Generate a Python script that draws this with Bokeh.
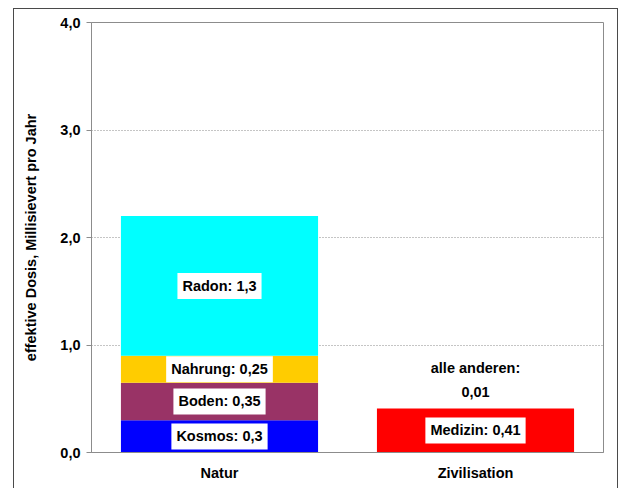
from bokeh.plotting import figure
from bokeh.models import ColumnDataSource, FactorRange, FixedTicker, CustomJSTickFormatter
from bokeh.core.properties import value
from bokeh.embed import file_html
from bokeh.resources import INLINE

# Annual effective dose (mSv) by source
categories = ["Natur", "Zivilisation"]
natur_sources = ["Kosmos", "Boden", "Nahrung", "Radon"]
natur_values = [0.3, 0.35, 0.25, 1.3]
natur_colors = ["#0000FF", "#993366", "#FFCC00", "#00FFFF"]
civil_sources = ["Medizin"]
civil_values = [0.41]
civil_colors = ["#FF0000"]
other_label = "alle anderen"
other_value = 0.01
y_ticks = [0, 1, 2, 3, 4]

FONT = "Liberation Sans"
FS = "14.5px"


def fmt(v):
    s = ("%.2f" % v).rstrip("0")
    if s.endswith("."):
        s += "0"
    return s.replace(".", ",")


def stack(cat, names, vals, colors):
    bottoms, tops = [], []
    acc = 0.0
    for v in vals:
        bottoms.append(acc)
        acc += v
        tops.append(acc)
    return dict(x=[cat] * len(vals), bottom=bottoms, top=tops, color=colors,
                mid=[(b + t) / 2 for b, t in zip(bottoms, tops)],
                label=[f"{n}: {fmt(v)}" for n, v in zip(names, vals)])


nat = stack(categories[0], natur_sources, natur_values, natur_colors)
civ = stack(categories[1], civil_sources, civil_values, civil_colors)
data = {k: nat[k] + civ[k] for k in nat}
src = ColumnDataSource(data)

# the chart sits inside a thin outer frame drawn as a CSS outline
p = figure(width=603, height=479, x_range=FactorRange(*categories, range_padding=0),
           y_range=(0, 4), output_backend="svg", toolbar_location=None,
           min_border_left=77, min_border_right=14, min_border_top=13, min_border_bottom=36,
           styles={"margin-left": "14px", "margin-top": "9px",
                   "outline": "1px solid #4a4a4a"})
p.background_fill_color = "white"
p.border_fill_color = "white"
p.outline_line_color = "#8c8c8c"
p.outline_line_width = 1

p.vbar(x="x", bottom="bottom", top="top", width=0.77, color="color", line_color=None, source=src)

p.text(x="x", y="mid", text="label", source=src, text_align="center", text_baseline="middle",
       text_font=value(FONT), text_font_style="bold", text_font_size=FS, text_color="black",
       background_fill_color="white", padding=5)

civ_total = sum(civil_values) + other_value
osrc = ColumnDataSource(dict(x=[categories[1]], y=[civ_total],
                             t=[f"{other_label}:\n{fmt(other_value)}"]))
p.text(x="x", y="y", text="t", source=osrc, text_align="center", text_baseline="bottom",
       y_offset=-7, text_font=value(FONT), text_font_style="bold", text_font_size=FS,
       text_color="black", text_line_height=1.5)

# axes
yax = p.yaxis[0]
yax.ticker = FixedTicker(ticks=y_ticks)
yax.formatter = CustomJSTickFormatter(code="return tick.toFixed(1).replace('.', ',');")
yax.axis_label = "effektive Dosis, Millisievert pro Jahr"
yax.axis_label_text_font = FONT
yax.axis_label_text_font_style = "bold"
yax.axis_label_text_font_size = FS
yax.axis_label_text_color = "black"
yax.axis_label_standoff = 18
yax.major_label_text_font = FONT
yax.major_label_text_font_style = "bold"
yax.major_label_text_font_size = FS
yax.major_label_text_color = "black"
yax.major_label_standoff = 6
yax.major_tick_out = 5
yax.major_tick_in = 0
yax.minor_tick_out = 0
yax.minor_tick_in = 0
yax.axis_line_color = "#8c8c8c"
yax.major_tick_line_color = "#8c8c8c"

xax = p.xaxis[0]
xax.major_label_text_font = FONT
xax.major_label_text_font_style = "bold"
xax.major_label_text_font_size = FS
xax.major_label_text_color = "black"
xax.major_label_standoff = 12
xax.major_tick_out = 0
xax.major_tick_in = 0
xax.axis_line_color = "#8c8c8c"

p.xgrid.grid_line_color = None
p.ygrid.ticker = FixedTicker(ticks=[1, 2, 3])
p.ygrid.grid_line_color = "#8a8a8a"
p.ygrid.grid_line_dash = "1 2"

open("out.html", "w").write(file_html(p, INLINE))
